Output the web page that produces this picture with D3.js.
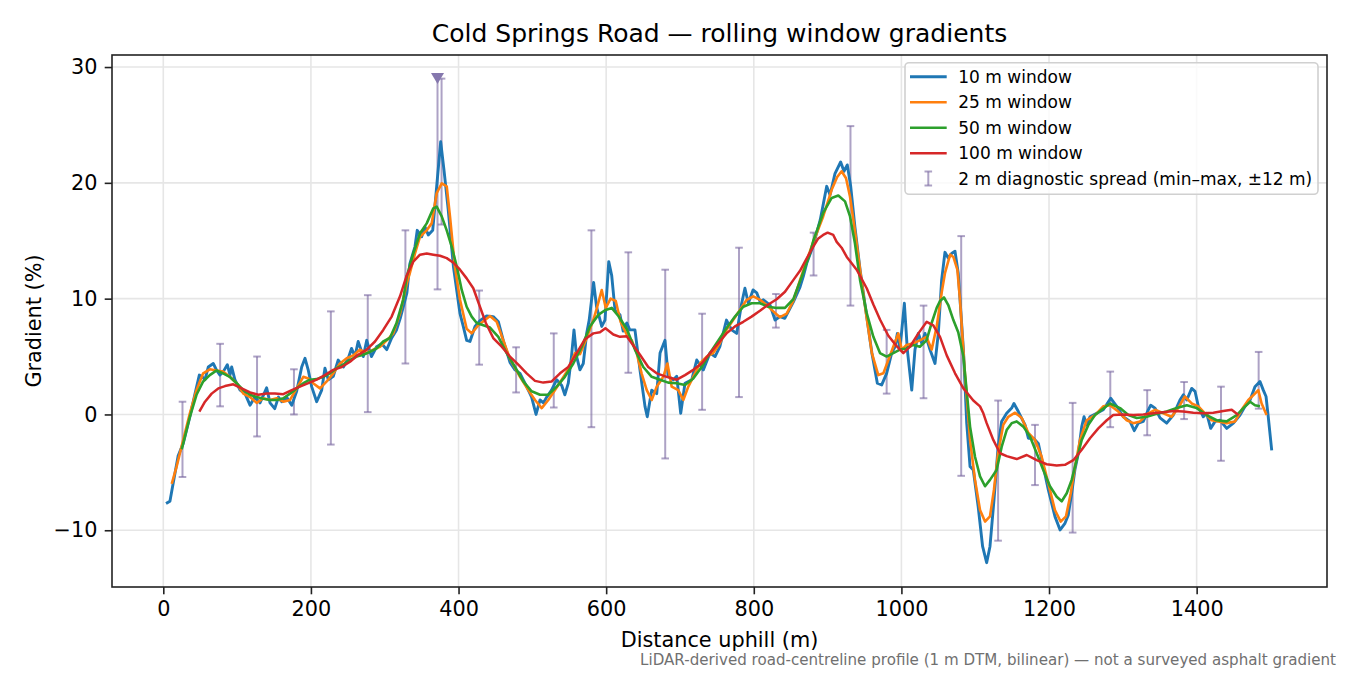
<!DOCTYPE html>
<html>
<head>
<meta charset="utf-8">
<script src="https://cdn.jsdelivr.net/npm/d3@7"></script>
<style>
  body { margin: 0; background: #fff; }
  svg { display: block; font-family: "DejaVu Sans", sans-serif; }
</style>
</head>
<body>
<script>
// values: [distance (m), gradient (%)]
const win10 = [[3.7,-7.7],[9,-7.5],[13.5,-5.9],[20,-3.6],[27,-2.5],[36,-0.2],[43,1.8],[48.8,3.4],[52,3.3],[56.5,3.0],[61,4.1],[67.7,4.4],[72.3,3.8],[76.8,3.4],[81.3,3.7],[86.7,4.3],[90.4,3.4],[92.6,4.1],[97,3.0],[104,2.1],[110.7,1.8],[117.5,0.8],[124,1.5],[131,1.0],[140,2.3],[144.6,1.0],[151,0.5],[156,1.5],[160.4,1.1],[167,1.5],[174,0.8],[180.7,2.0],[187.5,4.1],[192,4.85],[196.5,3.8],[201,2.4],[207.8,1.1],[214.6,2.1],[219,4.0],[223.5,3.0],[230.3,3.3],[237,4.7],[244,4.1],[250.6,4.85],[255,5.7],[259.7,5.0],[264,6.3],[271,5.0],[275.6,6.4],[282,5.0],[289,5.85],[296,6.1],[302.7,5.6],[309.4,6.6],[316,7.3],[321,8.3],[326,9.5],[330,10.5],[334,13.0],[341,14.5],[344,15.9],[350,15.35],[354.5,16.2],[359,15.5],[365,15.9],[370.4,19.7],[375.8,23.55],[380.3,21.1],[386,17.7],[393,12.8],[402,8.7],[406.4,7.6],[411,6.4],[415.5,6.3],[422.3,7.6],[429,8.1],[438,8.5],[447,8.45],[454,8.0],[460.6,6.4],[469.7,4.5],[476.5,3.85],[483.3,3.55],[492.3,2.4],[499,1.5],[505,0.0],[510.4,1.25],[515,1.0],[519.5,1.5],[526,2.1],[533,3.0],[539.8,2.5],[544,1.7],[548.7,2.7],[553,5.0],[556.4,7.3],[560,5.0],[564.5,3.85],[569,4.4],[573.6,7.0],[577,8.15],[583,11.4],[587,9.3],[594,7.6],[598.4,8.15],[603.5,13.2],[607.5,12.0],[612,9.0],[618.7,8.6],[623,7.2],[628,7.9],[632,7.3],[639,7.3],[645.8,3.85],[652.6,0.7],[655.7,-0.2],[661.7,2.1],[668.5,1.8],[673,5.3],[679.7,6.4],[684,3.3],[691,3.0],[695.6,3.3],[701,0.1],[706.8,2.7],[716,3.0],[722.7,4.7],[731.6,3.85],[740.7,5.3],[747.5,5.0],[754,5.85],[763,8.15],[770,7.3],[776.8,7.0],[783.6,9.6],[788,10.9],[792.6,9.6],[799,10.75],[804,10.5],[808.4,9.75],[813,9.9],[822,9.45],[828.8,8.15],[835.5,8.45],[842,8.3],[853.5,9.7],[862.6,11.0],[867,11.9],[871.7,13.05],[880.6,14.6],[890,16.8],[898.8,19.7],[903.3,18.95],[910,20.8],[917.7,21.8],[922.2,21.0],[926.7,21.55],[931.3,19.7],[937,16.2],[944,12.5],[953,8.45],[960,5.3],[967.4,2.7],[973.3,2.55],[980,3.55],[986.8,5.3],[991.3,5.85],[994.5,7.0],[998,5.6],[1004,9.6],[1008,5.6],[1014,2.1],[1018.4,5.6],[1023,7.0],[1027.5,6.15],[1032,7.0],[1038.7,5.6],[1045.5,4.4],[1050,7.0],[1054.5,11.6],[1059,14.0],[1063.5,13.5],[1068,13.9],[1072.6,14.1],[1077,12.2],[1084,5.6],[1088.5,-0.75],[1093,-4.5],[1097.4,-4.8],[1104,-7.95],[1110,-11.4],[1115.5,-12.8],[1120,-11.4],[1125.4,-7.4],[1131,-2.8],[1135.8,-0.6],[1142.6,0.1],[1149.4,0.55],[1152.5,0.95],[1158.4,0.25],[1167.5,-0.9],[1172,-2.05],[1178.8,-2.05],[1185.5,-2.5],[1192.2,-4.5],[1199,-6.5],[1208,-8.8],[1215,-9.97],[1221.6,-9.4],[1226,-8.7],[1230.7,-6.8],[1235,-4.8],[1239.7,-3.35],[1244.3,-1.05],[1247.4,-0.2],[1251,-0.9],[1255.5,-0.2],[1264.6,0.1],[1273.5,0.4],[1283.5,1.4],[1291.7,0.7],[1300.6,-0.2],[1309.7,-0.6],[1315.5,-1.4],[1321,-0.75],[1327.7,-0.6],[1334.5,0.4],[1337.8,0.8],[1343.6,0.55],[1350.4,-0.3],[1359.4,-0.75],[1368.4,-0.05],[1377.4,1.25],[1382,1.7],[1386.6,1.25],[1393.3,2.25],[1397.8,2.0],[1402.3,0.7],[1409,-0.2],[1413.6,0.1],[1419,-1.2],[1425,-0.6],[1431.7,-0.5],[1440.7,-1.2],[1449.8,-0.75],[1458.8,-0.05],[1465.6,0.7],[1472.4,1.25],[1479,2.4],[1485.8,2.85],[1490.3,2.1],[1494,1.55],[1497,-0.2],[1501.7,-3.1]]

const win25 = [[11.4,-6.0],[18,-4.5],[27,-2.2],[36,0.1],[45,2.1],[54,3.55],[63,3.9],[72.3,3.8],[81,3.7],[90,3.25],[99.4,2.7],[108.4,1.8],[117.5,1.5],[126.5,1.0],[135.5,1.4],[144.6,1.25],[153.6,1.4],[162.6,1.1],[171.7,1.25],[180.7,2.25],[189.7,3.25],[196.5,3.1],[203,2.7],[212.3,2.25],[221.4,2.85],[230.3,3.55],[239.4,4.4],[248.5,4.85],[257.4,5.1],[266.5,5.6],[275.6,5.3],[284.5,5.6],[293.6,5.85],[302.7,6.4],[311.6,7.0],[320.7,8.7],[329.8,11.3],[334,12.2],[341,13.9],[347.8,15.35],[356.9,15.9],[363.6,16.5],[370.4,19.1],[377.2,19.95],[384,19.7],[388.4,17.1],[395,12.8],[402,9.9],[411,7.4],[417.8,7.0],[426.8,7.7],[435.8,8.15],[442.6,8.5],[451.7,8.0],[460.6,6.4],[469.7,4.8],[483.3,3.25],[494.5,2.1],[503.6,1.25],[512.7,0.55],[521.6,1.25],[530.7,2.1],[539.8,3.0],[548.7,3.9],[557.8,5.3],[564.5,5.2],[573.6,6.6],[582.6,8.15],[587,9.1],[594,10.75],[599.5,9.2],[606,10.0],[613,9.8],[619.5,8.0],[627.8,6.9],[634.6,6.4],[641.4,5.3],[648,3.55],[655,2.1],[661.7,1.25],[668.5,2.4],[677.4,3.25],[683,4.4],[688.8,2.4],[697.7,2.1],[704.5,1.25],[711.3,2.4],[718,3.25],[727,4.4],[736.2,5.0],[745,5.3],[754,6.15],[763,7.3],[772,8.15],[781,9.0],[790.4,9.9],[799.3,10.2],[808.4,9.9],[817.5,9.45],[826.4,8.9],[835.5,8.4],[844.6,8.7],[853.5,9.8],[862.6,11.6],[871.7,13.3],[880.6,14.9],[894,17.1],[905.5,19.4],[913,20.5],[919,21.0],[925,20.4],[930.4,18.8],[937,15.9],[944,12.5],[952,8.75],[960,5.3],[968.7,3.4],[975.5,3.55],[982.3,4.7],[989,5.85],[995.8,7.0],[1000.4,5.6],[1007,6.0],[1016,6.15],[1025,6.4],[1034,6.7],[1041,5.6],[1047.8,7.6],[1054.5,10.5],[1059,12.2],[1066,13.8],[1070.4,13.6],[1075.8,12.5],[1079.4,9.9],[1086,3.55],[1093,-2.2],[1099.7,-5.65],[1106.5,-8.25],[1113.3,-9.25],[1120,-8.8],[1125.4,-6.5],[1131,-3.35],[1138,-0.9],[1144.8,-0.2],[1154,0.15],[1163,-0.3],[1172,-1.6],[1181,-2.2],[1190,-3.65],[1199,-5.95],[1208,-8.25],[1215.8,-9.25],[1223,-8.8],[1229.4,-6.8],[1235.2,-4.5],[1242,-2.2],[1251,-0.5],[1262.3,-0.05],[1273.5,0.7],[1282.6,0.8],[1293.8,0.25],[1305.3,-0.5],[1314.2,-0.75],[1323.3,-0.6],[1334.5,0.1],[1343.6,0.4],[1354.8,0.1],[1366,-0.2],[1375,0.55],[1384,1.55],[1393.3,0.95],[1402.3,0.7],[1411.3,0.1],[1420.4,-0.5],[1429.4,-0.6],[1440.7,-0.75],[1452,-0.6],[1461,0.4],[1470,1.25],[1479,1.8],[1483.5,2.1],[1488,0.95],[1494.8,-0.05]]

const win50 = [[25,-3.0],[36,-0.2],[45,1.7],[54,2.85],[63,3.4],[72.3,3.8],[81,3.55],[90,3.25],[99.4,2.7],[108.4,2.1],[117.5,1.7],[126.5,1.5],[135.5,1.35],[144.6,1.25],[153.6,1.25],[162.6,1.4],[171.7,1.8],[180.7,2.25],[189.7,2.7],[198.7,3.0],[207.8,3.05],[216.8,3.25],[225.8,3.55],[234.9,4.0],[244,4.3],[253,4.7],[262,5.0],[271,5.15],[280,5.4],[289,5.7],[298,6.3],[307,6.6],[316,7.9],[325,9.9],[329.8,11.9],[338.7,13.9],[347.8,15.65],[356.9,16.5],[365.8,17.8],[370.4,17.95],[377.2,17.1],[384,15.9],[390.7,14.5],[397.5,12.8],[404.3,10.75],[411,9.3],[417.8,8.45],[424.6,7.9],[433.5,7.7],[442.6,7.5],[453.9,6.7],[465.2,5.3],[476.5,4.1],[487.7,2.85],[499,2.0],[510.4,1.7],[521.6,1.7],[533,2.4],[544,3.25],[555.5,4.4],[567,5.85],[578,7.6],[589.4,8.6],[598.4,9.0],[607.5,9.2],[616.5,8.5],[627.8,7.4],[639,5.6],[650.3,4.1],[661.7,3.25],[673,3.0],[684,2.75],[695.6,2.7],[706.8,2.55],[718,3.1],[729.4,4.1],[740.7,5.3],[752,6.4],[763,7.45],[774.5,8.45],[785.8,9.3],[797,9.6],[808.4,9.6],[819.7,9.3],[831,9.2],[842.3,9.2],[853.5,9.95],[865,11.9],[876,13.9],[880.6,15.0],[887.4,16.2],[894,17.4],[905.5,18.7],[914.5,18.9],[923.6,18.4],[930.4,17.1],[937,14.8],[944,11.6],[953,8.75],[962,6.7],[971,5.3],[980,5.0],[989,5.3],[998,5.6],[1007,5.7],[1016,6.0],[1025,5.85],[1034,6.4],[1041,7.9],[1047.8,9.2],[1052.3,9.8],[1057.7,10.1],[1063.5,9.45],[1070.4,8.15],[1077,7.1],[1084,5.0],[1093,-1.05],[1099.7,-3.65],[1106.5,-5.35],[1113.3,-6.2],[1120,-5.65],[1129,-4.8],[1135.8,-2.8],[1142.6,-1.35],[1149.4,-0.75],[1156.2,-0.6],[1165.2,-1.05],[1174.2,-1.9],[1183.3,-3.35],[1192.2,-4.8],[1201.3,-6.2],[1210.4,-7.1],[1217.2,-7.5],[1224,-6.8],[1230.7,-5.65],[1237.5,-3.9],[1244.3,-2.2],[1253.3,-0.9],[1262.3,-0.05],[1271.4,0.4],[1282.6,0.95],[1296.2,0.55],[1307.4,-0.05],[1318.8,-0.3],[1332.3,-0.2],[1345.8,0.05],[1359.4,0.25],[1373,0.55],[1386.6,0.8],[1400,0.55],[1413.6,-0.05],[1427,-0.5],[1440.7,-0.6],[1454.3,-0.05],[1463.3,0.55],[1472.4,1.1],[1479,0.8],[1485.8,0.7]]

const win100 = [[48.8,0.25],[56.5,1.1],[65.5,1.8],[74.5,2.25],[83.6,2.45],[94.8,2.6],[106.2,2.25],[117.5,1.9],[128.7,1.7],[140,1.8],[151.3,1.8],[162.6,1.75],[174,2.1],[185,2.4],[196.5,2.7],[207.8,3.0],[219,3.4],[230.3,3.85],[241.7,4.1],[253,4.55],[264,5.15],[275.6,5.6],[286.8,6.3],[298,7.3],[309.4,8.45],[320.7,10.2],[329.8,12.0],[338.7,13.2],[347.8,13.8],[356.9,13.9],[365.8,13.8],[374.9,13.7],[384,13.5],[393,13.1],[402,12.5],[411,11.75],[420,10.9],[429,9.3],[437,7.9],[447,6.6],[458.5,5.85],[469.7,5.0],[481,4.3],[492.3,3.55],[503.6,2.9],[514.8,2.75],[526.2,2.85],[537.5,3.55],[548.7,4.1],[560,5.3],[571.3,6.5],[582.6,7.0],[591.6,7.1],[599,7.45],[609.7,6.9],[618.7,6.7],[627.8,6.75],[634.6,6.15],[645.8,5.15],[657,4.1],[668.5,3.55],[682,3.25],[695.6,3.0],[706.8,3.4],[718,3.85],[729.4,4.4],[740.7,5.3],[752,6.15],[763,7.0],[774.5,7.6],[785.8,8.0],[797,8.45],[808.4,8.95],[819.7,9.5],[831,9.95],[842.3,10.6],[853.5,11.6],[862.6,12.4],[871,13.4],[880.6,14.5],[887.4,15.2],[894,15.5],[900,15.7],[907.7,15.5],[912.3,14.9],[919,14.4],[926,13.6],[939.4,12.5],[953,10.9],[962,9.5],[971,8.2],[982.3,6.8],[993.6,5.9],[1002.6,5.3],[1011.6,5.85],[1023,7.0],[1034.3,8.0],[1043.2,7.7],[1052.3,6.7],[1061.4,5.1],[1072.7,3.55],[1084,2.25],[1097.4,1.2],[1106.5,0.7],[1111,0.1],[1115.5,-0.75],[1124.5,-2.2],[1133.6,-3.35],[1142.6,-3.6],[1156.2,-3.85],[1169.8,-3.5],[1183.3,-3.95],[1196.8,-4.3],[1210.4,-4.4],[1221.6,-4.35],[1232.9,-3.95],[1244.3,-3.05],[1255.5,-2.05],[1266.8,-1.2],[1278.2,-0.5],[1287,-0.05],[1300.6,0.0],[1314.2,-0.05],[1327.7,0.0],[1341.3,0.1],[1354.8,0.2],[1368.4,0.3],[1382,0.25],[1395.5,0.15],[1409,0.1],[1422.6,0.15],[1436,0.3],[1447.5,0.4],[1456.5,-0.05]]

// 2 m diagnostic spread (min / max)
const spreadX  = [26, 77, 127, 177, 227, 277, 328, 377, 428, 478, 529, 580, 630, 680, 730, 780, 830, 881, 931, 980, 1030, 1081, 1131, 1181, 1232, 1283, 1333, 1383, 1433, 1484]
const spreadLo = [-5.4, 0.7, -1.9, 0.0, -2.6, 0.2, 4.4, 16.4, 4.3, 1.9, 0.6, -1.1, 3.6, -3.8, 0.4, 1.5, 7.5, 12.0, 9.4, 1.8, 1.4, -5.3, -10.9, -6.1, -10.2, -1.1, -1.8, -0.4, -4.0, 0.5]
const spreadHi = [1.1, 6.1, 5.0, 3.9, 8.9, 10.3, 15.9, 29.0, 10.7, 5.8, 7.0, 15.9, 14.0, 12.5, 8.7, 14.4, 10.4, 15.7, 24.9, 7.3, 9.4, 15.4, 1.2, -0.9, 1.0, 3.7, 2.1, 2.8, 2.4, 5.4]
// one spread runs off the top: drawn up to the clip level with a marker
const clippedSpread = { x: 371.5, lo: 10.8, hi: 29.0 }

const seriesNames = ["10 m window", "25 m window", "50 m window", "100 m window"]
const spreadName = "2 m diagnostic spread (min\u2013max, \u00b112 m)"
const xTicks = [0, 200, 400, 600, 800, 1000, 1200, 1400]
const yTicks = [-10, 0, 10, 20, 30]

const colors = ["#1f77b4", "#ff7f0e", "#2ca02c", "#d62728"]
const widths = [2.9, 2.6, 2.6, 2.5]
const spreadColor = "#77649f"

document.addEventListener('DOMContentLoaded', () => {
  const W = 1350, H = 675
  const left = 112, right = 1327, top = 55, bottom = 587

  const svg = d3.select("body").append("svg")
    .attr("width", W).attr("height", H)

  const x = d3.scaleLinear().domain([-69.5, 1576.6]).range([left, right])
  const y = d3.scaleLinear().domain([-14.9, 31.04]).range([bottom, top])

  svg.append("clipPath").attr("id", "plot")
    .append("rect").attr("x", left).attr("y", top)
    .attr("width", right - left).attr("height", bottom - top)

  // grid
  const grid = svg.append("g").attr("stroke", "#e6e6e6").attr("stroke-width", 1.6)
  grid.selectAll(".gx").data(xTicks).enter().append("line")
    .attr("x1", d => x(d)).attr("x2", d => x(d))
    .attr("y1", top).attr("y2", bottom)
  grid.selectAll(".gy").data(yTicks).enter().append("line")
    .attr("x1", left).attr("x2", right)
    .attr("y1", d => y(d)).attr("y2", d => y(d))

  const plot = svg.append("g").attr("clip-path", "url(#plot)")

  // error bars
  const spread = spreadX.map((d, i) => ({ x: d, lo: spreadLo[i], hi: spreadHi[i] }))
  const bars = plot.append("g")
    .attr("stroke", spreadColor).attr("stroke-opacity", 0.6).attr("stroke-width", 2)
  const cap = 3.8
  spread.forEach(d => {
    bars.append("line").attr("x1", x(d.x)).attr("x2", x(d.x))
      .attr("y1", y(d.lo)).attr("y2", y(d.hi))
    bars.append("line").attr("x1", x(d.x) - cap).attr("x2", x(d.x) + cap)
      .attr("y1", y(d.lo)).attr("y2", y(d.lo))
    bars.append("line").attr("x1", x(d.x) - cap).attr("x2", x(d.x) + cap)
      .attr("y1", y(d.hi)).attr("y2", y(d.hi))
  })
  bars.append("line").attr("x1", x(clippedSpread.x)).attr("x2", x(clippedSpread.x))
    .attr("y1", y(clippedSpread.lo)).attr("y2", y(clippedSpread.hi))
  bars.append("line").attr("x1", x(clippedSpread.x) - cap).attr("x2", x(clippedSpread.x) + cap)
    .attr("y1", y(clippedSpread.lo)).attr("y2", y(clippedSpread.lo))

  // gradient lines
  const line = d3.line().x(d => x(d[0])).y(d => y(d[1]))
  ;[win10, win25, win50, win100].forEach((s, i) => {
    plot.append("path").datum(s)
      .attr("d", line)
      .attr("fill", "none")
      .attr("stroke", colors[i])
      .attr("stroke-width", widths[i])
      .attr("stroke-linejoin", "round")
      .attr("stroke-linecap", "butt")
  })

  // off-scale marker
  const cx = x(clippedSpread.x), cy = y(clippedSpread.hi)
  plot.append("path")
    .attr("d", `M${cx - 6.5},${cy - 5.5}L${cx + 6.5},${cy - 5.5}L${cx},${cy + 5.5}Z`)
    .attr("fill", "#8577ad")

  // axes
  const fmt = d => d < 0 ? "\u2212" + Math.abs(d) : String(d)
  const xAxis = d3.axisBottom(x).tickValues(xTicks).tickFormat(fmt)
    .tickSizeInner(7.3).tickSizeOuter(0).tickPadding(7.3)
  const yAxis = d3.axisLeft(y).tickValues(yTicks).tickFormat(fmt)
    .tickSizeInner(7.3).tickSizeOuter(0).tickPadding(7.3)

  const gx = svg.append("g").attr("transform", "translate(0," + bottom + ")").call(xAxis)
  const gy = svg.append("g").attr("transform", "translate(" + left + ",0)").call(yAxis)
  ;[gx, gy].forEach(g => {
    g.select(".domain").remove()
    g.selectAll(".tick line").attr("stroke", "#222").attr("stroke-width", 1.6)
    g.selectAll(".tick text").attr("fill", "#000")
      .style("font-size", "20.8px").style("font-family", "DejaVu Sans")
  })

  svg.append("rect")
    .attr("x", left).attr("y", top)
    .attr("width", right - left).attr("height", bottom - top)
    .attr("fill", "none").attr("stroke", "#222").attr("stroke-width", 1.6)

  // titles
  svg.append("text").attr("x", (left + right) / 2).attr("y", 42)
    .attr("text-anchor", "middle").style("font-size", "25px")
    .text("Cold Springs Road \u2014 rolling window gradients")
  svg.append("text").attr("x", (left + right) / 2).attr("y", 647)
    .attr("text-anchor", "middle").style("font-size", "20.8px")
    .text("Distance uphill (m)")
  svg.append("text")
    .attr("transform", "translate(41," + ((top + bottom) / 2) + ") rotate(-90)")
    .attr("text-anchor", "middle").style("font-size", "20.8px")
    .text("Gradient (%)")
  svg.append("text").attr("x", 1336).attr("y", 665)
    .attr("text-anchor", "end").style("font-size", "15.1px").attr("fill", "#707070")
    .text("LiDAR-derived road-centreline profile (1 m DTM, bilinear) \u2014 not a surveyed asphalt gradient")

  // legend
  const lg = svg.append("g")
  lg.append("rect").attr("x", 905).attr("y", 62.7).attr("width", 413).attr("height", 131.6)
    .attr("rx", 4).attr("fill", "#fff").attr("fill-opacity", 0.8)
    .attr("stroke", "#d0d0d0").attr("stroke-width", 1.6)
  const rowY = [76.7, 102.3, 127.7, 153.3, 178.5]
  seriesNames.forEach((name, i) => {
    lg.append("line").attr("x1", 910).attr("x2", 946.7)
      .attr("y1", rowY[i]).attr("y2", rowY[i])
      .attr("stroke", colors[i]).attr("stroke-width", widths[i])
    lg.append("text").attr("x", 958.3).attr("y", rowY[i]).attr("dy", "0.36em")
      .style("font-size", "17px").text(name)
  })
  const ey = rowY[4]
  const eg = lg.append("g").attr("stroke", spreadColor).attr("stroke-opacity", 0.6).attr("stroke-width", 2)
  eg.append("line").attr("x1", 928.3).attr("x2", 928.3).attr("y1", ey - 7).attr("y2", ey + 7)
  eg.append("line").attr("x1", 928.3 - cap).attr("x2", 928.3 + cap).attr("y1", ey - 7).attr("y2", ey - 7)
  eg.append("line").attr("x1", 928.3 - cap).attr("x2", 928.3 + cap).attr("y1", ey + 7).attr("y2", ey + 7)
  lg.append("text").attr("x", 958.3).attr("y", ey).attr("dy", "0.36em")
    .style("font-size", "17px").text(spreadName)
})
</script>
</body>
</html>
